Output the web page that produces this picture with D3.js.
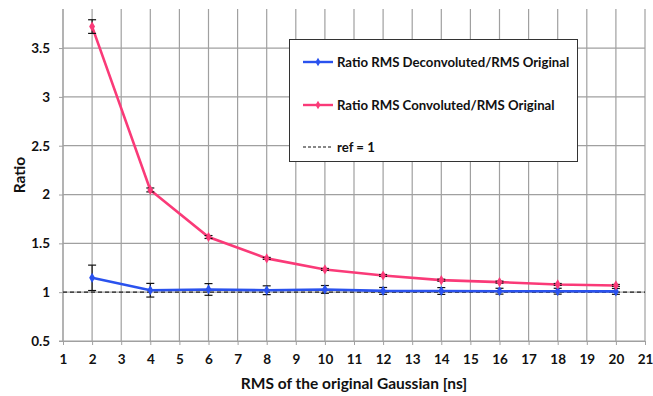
<!DOCTYPE html>
<html><head><meta charset="utf-8">
<script src="https://cdn.jsdelivr.net/npm/d3@7"></script>
<style>body{margin:0;background:#fff}svg{display:block}text{font-family:Lato,"Open Sans",sans-serif;font-weight:bold;fill:#111}</style>
</head><body><svg id="c" width="653" height="396"></svg>
<script>
const xs = [2,4,6,8,10,12,14,16,18,20];
const deconv = [1.147,1.020,1.028,1.020,1.028,1.013,1.012,1.010,1.010,1.008];
const deconvErr = [0.13,0.07,0.06,0.045,0.04,0.035,0.035,0.03,0.03,0.03];
const conv = [3.72,2.047,1.565,1.346,1.233,1.171,1.123,1.103,1.079,1.069];
const convErr = [0.07,0.02,0.015,0.01,0.01,0.01,0.01,0.01,0.01,0.01];
const xTicks = d3.range(1,22);
const yTicks = [0.5,1,1.5,2,2.5,3,3.5];
const refValue = 1;
const legendLabels = ["Ratio RMS Deconvoluted/RMS Original","Ratio RMS Convoluted/RMS Original","ref = 1"];
const colors = ["#2a52ee","#fa3a78","#111"];

const svg = d3.select("#c");
const L=63,R=645,T=9,B=341;
const x = d3.scaleLinear().domain([1,21]).range([L,R]);
const y = d3.scaleLinear().domain([0.5,3.9]).range([B,T]);
const g = svg.append("g");

// grid
g.selectAll(".vg").data(xTicks).enter().append("line")
 .attr("x1",d=>x(d)).attr("x2",d=>x(d)).attr("y1",T).attr("y2",B)
 .attr("stroke","#a0a0a0").attr("stroke-width",1.2);
g.selectAll(".hg").data(yTicks).enter().append("line")
 .attr("x1",L).attr("x2",R).attr("y1",d=>y(d)).attr("y2",d=>y(d))
 .attr("stroke","#a0a0a0").attr("stroke-width",1.2);

// axes
const xAxis = d3.axisBottom(x).tickValues(xTicks).tickSize(4).tickPadding(9).tickFormat(d3.format("d"));
const ax = g.append("g").attr("transform",`translate(0,${B})`).call(xAxis);
ax.select(".domain").attr("stroke","#a0a0a0");
ax.selectAll(".tick line").attr("stroke","#a0a0a0");
ax.selectAll("text").attr("font-size",13.5).attr("font-family","Lato").attr("font-weight","bold").attr("fill","#111");
const yAxis = d3.axisLeft(y).tickValues(yTicks).tickSize(4).tickPadding(9).tickFormat(d=>String(d));
const ay = g.append("g").attr("transform",`translate(${L},0)`).call(yAxis);
ay.select(".domain").attr("stroke","#a0a0a0").attr("d",`M-4,${B}H0V${T}`);
ay.selectAll(".tick line").attr("stroke","#a0a0a0");
ay.selectAll("text").attr("font-size",13.5).attr("font-family","Lato").attr("font-weight","bold").attr("fill","#111");

// ref line
g.append("line").attr("x1",x(1)).attr("x2",x(21)).attr("y1",y(refValue)).attr("y2",y(refValue))
 .attr("stroke","#222").attr("stroke-width",1.3).attr("stroke-dasharray","4,3");

function series(vals, errs, color){
  const pts = xs.map((d,i)=>({x:d,v:vals[i],e:errs[i]}));
  g.append("path").datum(pts).attr("fill","none").attr("stroke",color).attr("stroke-width",2.6)
   .attr("d",d3.line().x(d=>x(d.x)).y(d=>y(d.v)));
  const eb = g.append("g");
  pts.forEach(p=>{
    eb.append("line").attr("x1",x(p.x)).attr("x2",x(p.x)).attr("y1",y(p.v-p.e)).attr("y2",y(p.v+p.e)).attr("stroke","#111").attr("stroke-width",1.2);
    [p.v-p.e,p.v+p.e].forEach(v=>eb.append("line").attr("x1",x(p.x)-4).attr("x2",x(p.x)+4).attr("y1",y(v)).attr("y2",y(v)).attr("stroke","#111").attr("stroke-width",1.2));
  });
  g.selectAll(null).data(pts).enter().append("path")
   .attr("d",d3.symbol().type(d3.symbolDiamond).size(30))
   .attr("transform",d=>`translate(${x(d.x)},${y(d.v)})`).attr("fill",color);
}
series(deconv,deconvErr,colors[0]);
series(conv,convErr,colors[1]);

// legend
const lg = svg.append("g");
lg.append("rect").attr("x",289.5).attr("y",39.5).attr("width",288).attr("height",122)
 .attr("fill","#fff").attr("stroke","#333").attr("stroke-width",1);
const rows=[62,105,147];
legendLabels.forEach((lab,i)=>{
  const ly=rows[i];
  const ln = lg.append("line").attr("x1",303).attr("x2",333).attr("y1",ly).attr("y2",ly).attr("stroke",colors[i]);
  if(i<2){ ln.attr("stroke-width",2.4);
    lg.append("path").attr("d",d3.symbol().type(d3.symbolDiamond).size(22)).attr("transform",`translate(318,${ly})`).attr("fill",colors[i]);
  } else ln.attr("stroke-width",1.2).attr("stroke-dasharray","3,2");
  lg.append("text").attr("x",337).attr("y",ly).attr("dy","0.35em").attr("font-size",13.2).text(lab);
});

// titles
svg.append("text").attr("x",354).attr("y",389).attr("text-anchor","middle").attr("font-size",15.5).text("RMS of the original Gaussian [ns]");
svg.append("text").attr("transform","translate(25,175) rotate(-90)").attr("text-anchor","middle").attr("font-size",15.5).text("Ratio");
</script></body></html>
